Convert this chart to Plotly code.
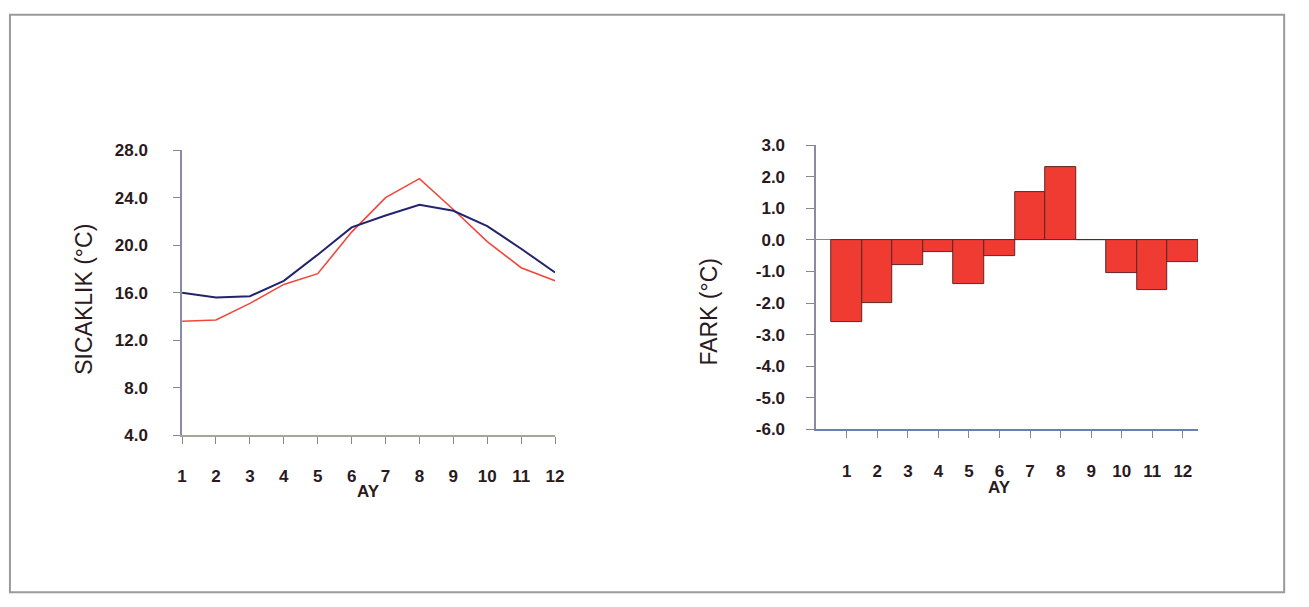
import plotly.graph_objects as go

# ---- data ----
months = [1, 2, 3, 4, 5, 6, 7, 8, 9, 10, 11, 12]
month_labels = ["1", "2", "3", "4", "5", "6", "7", "8", "9", "10", "11", "12"]
temp_blue = [16.0, 15.6, 15.7, 17.0, 19.2, 21.5, 22.5, 23.4, 22.9, 21.6, 19.7, 17.7]
temp_red = [13.6, 13.7, 15.1, 16.7, 17.6, 21.1, 24.0, 25.6, 23.0, 20.3, 18.1, 17.0]
fark = [-2.6, -2.0, -0.8, -0.4, -1.4, -0.5, 1.5, 2.3, 0.0, -1.05, -1.6, -0.7]
left_yticks = [4, 8, 12, 16, 20, 24, 28]
left_yticklabels = ["4.0", "8.0", "12.0", "16.0", "20.0", "24.0", "28.0"]
right_yticks = [-6, -5, -4, -3, -2, -1, 0, 1, 2, 3]
right_yticklabels = ["-6.0", "-5.0", "-4.0", "-3.0", "-2.0", "-1.0", "0.0", "1.0", "2.0", "3.0"]

W, H = 1309, 607
FONT = "Liberation Sans, Arial, sans-serif"
TXT = "#2a1a1e"

def px_x(p):
    return p / W

def px_y(p):
    return 1 - p / H

fig = go.Figure()

fig.add_trace(go.Scatter(x=months, y=temp_red, mode="lines",
                         line=dict(color="#f2463a", width=1.6),
                         xaxis="x", yaxis="y", showlegend=False))
fig.add_trace(go.Scatter(x=months, y=temp_blue, mode="lines",
                         line=dict(color="#23236e", width=2),
                         xaxis="x", yaxis="y", showlegend=False))

fig.add_trace(go.Bar(x=months, y=fark, width=1.0,
                     marker=dict(color="#f03b32", line=dict(color="#5e2424", width=1)),
                     xaxis="x2", yaxis="y2", showlegend=False))

tickfont = dict(family=FONT, size=17, color=TXT, weight="bold")

fig.update_layout(
    width=W, height=H,
    margin=dict(l=0, r=0, t=0, b=0),
    paper_bgcolor="white", plot_bgcolor="white",
    font=dict(family=FONT, color=TXT),
    bargap=0,
    xaxis=dict(domain=[px_x(179), px_x(556)], range=[1, 12],
               tickvals=months, ticktext=month_labels,
               showgrid=False, zeroline=False,
               showline=True, linecolor="#a8a498", linewidth=1.5,
               ticks="outside", ticklen=7, tickcolor="#888",
               ticklabelstandoff=18, tickfont=tickfont,
               anchor="y"),
    yaxis=dict(domain=[px_y(440), px_y(145.7)], range=[4, 28],
               tickvals=left_yticks, ticktext=left_yticklabels,
               showgrid=False, zeroline=False,
               showline=True, linecolor="#8a8aa8", linewidth=1.5,
               ticks="outside", ticklen=7, tickcolor="#888",
               ticklabelstandoff=22, tickfont=tickfont,
               anchor="x"),
    xaxis2=dict(domain=[px_x(820), px_x(1206)], range=[0, 12.5],
                tickvals=months, ticktext=month_labels,
                showgrid=False, zeroline=False,
                showline=True, linecolor="#6a80b0", linewidth=1.5,
                ticks="outside", ticklen=7, tickcolor="#888",
                ticklabelstandoff=18, tickfont=tickfont,
                anchor="y2"),
    yaxis2=dict(domain=[px_y(434), px_y(140.5)], range=[-6, 3],
                tickvals=right_yticks, ticktext=right_yticklabels,
                showgrid=False,
                zeroline=True, zerolinecolor="#7888b0", zerolinewidth=1.2,
                showline=True, linecolor="#8a8aa0", linewidth=1.5,
                ticks="outside", ticklen=8, tickcolor="#888",
                ticklabelstandoff=18, tickfont=tickfont,
                anchor="x2"),
    annotations=[
        dict(text="SICAKLIK (°C)", x=px_x(79), y=px_y(300), xref="paper", yref="paper",
             textangle=-90, showarrow=False, font=dict(family=FONT, size=23, color=TXT),
             xanchor="center", yanchor="middle"),
        dict(text="AY", x=px_x(367), y=px_y(498), xref="paper", yref="paper",
             showarrow=False, font=dict(family=FONT, size=17, color=TXT, weight="bold"),
             xanchor="center", yanchor="middle"),
        dict(text="FARK (°C)", x=px_x(712), y=px_y(312), xref="paper", yref="paper",
             textangle=-90, showarrow=False, font=dict(family=FONT, size=23, color=TXT),
             xanchor="center", yanchor="middle"),
        dict(text="AY", x=px_x(1005), y=px_y(494), xref="paper", yref="paper",
             showarrow=False, font=dict(family=FONT, size=17, color=TXT, weight="bold"),
             xanchor="center", yanchor="middle"),
    ],
    shapes=[
        dict(type="rect", xref="paper", yref="paper",
             x0=px_x(5), x1=px_x(1293), y0=px_y(602), y1=px_y(6),
             line=dict(color="#9a9a9a", width=2), fillcolor="rgba(0,0,0,0)"),
    ],
)

fig.write_html(
    "out.html",
    config={"displayModeBar": False},
    post_script="document.body.style.margin='0';document.body.style.overflow='hidden';"
                "document.documentElement.style.overflow='hidden';",
)
